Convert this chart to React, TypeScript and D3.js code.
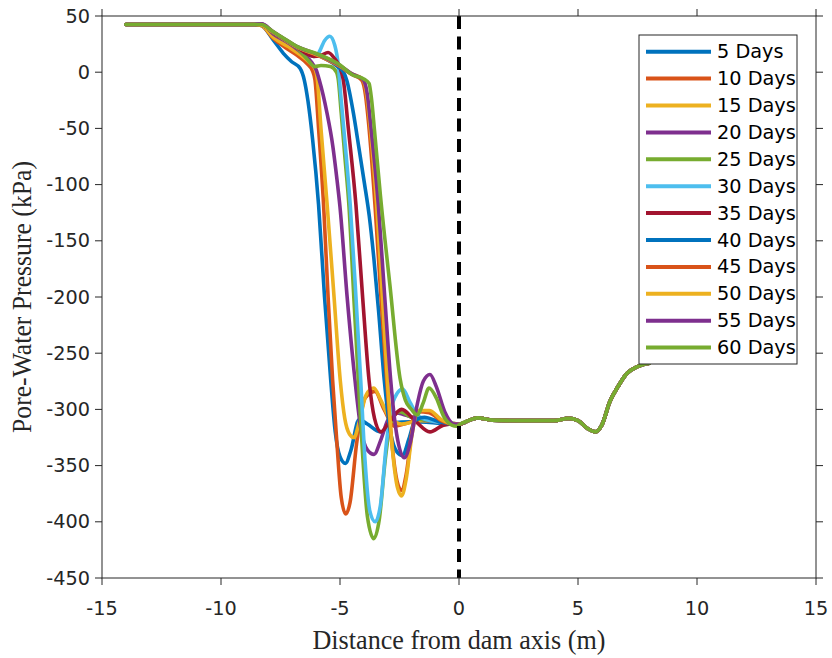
import React from "react";
import * as d3 from "d3";

type P = [number, number];

const xTicks = [-15, -10, -5, 0, 5, 10, 15];
const yTicks = [50, 0, -50, -100, -150, -200, -250, -300, -350, -400, -450];
const seriesLabels = ["5 Days", "10 Days", "15 Days", "20 Days", "25 Days", "30 Days", "35 Days", "40 Days", "45 Days", "50 Days", "55 Days", "60 Days"];
const colors = ["#0072BD", "#D95319", "#EDB120", "#7E2F8E", "#77AC30", "#4DBEEE", "#A2142F", "#0072BD", "#D95319", "#EDB120", "#7E2F8E", "#77AC30"];

const headFlat: P[] = [[-14, 42.5], [-11, 42.5], [-8.6, 42.5]];
const tailCommon: P[] = [[0.05, -313], [0.4, -310], [0.78, -307.5], [1.4, -309.5], [2.5, -310], [4.0, -310], [4.6, -308], [5.0, -310], [5.4, -317], [5.72, -320], [6.0, -314], [6.34, -293], [6.7, -279], [7.05, -268], [7.39, -263], [7.68, -260.5], [8.0, -259]];

const days5: P[] = [[-8.3, 41.5], [-7.8, 28.6], [-7.38, 16.8], [-7.03, 9.3], [-6.68, 3.5], [-6.5, -7], [-6.35, -25], [-6.15, -60], [-5.9, -118], [-5.65, -200], [-5.39, -274], [-5.2, -320], [-5.0, -342], [-4.77, -348], [-4.55, -337], [-4.2, -309], [-3.85, -313], [-3.3, -320], [-2.8, -312], [-2.0, -311], [-1.0, -312], [-0.4, -313]];
const days10: P[] = [[-8.3, 41.5], [-7.8, 30], [-7.3, 22], [-6.8, 15], [-6.4, 8], [-6.15, 1], [-6.05, -7], [-5.9, -50], [-5.69, -118], [-5.5, -200], [-5.31, -274], [-5.13, -330], [-4.95, -378], [-4.76, -393], [-4.58, -383], [-4.3, -330], [-3.95, -290], [-3.53, -284], [-3.15, -300], [-2.7, -315], [-2.3, -313], [-1.6, -309], [-0.9, -310], [-0.35, -313]];
const days15: P[] = [[-8.3, 41.5], [-7.8, 31], [-7.2, 23], [-6.7, 16], [-6.3, 9], [-6.05, 3], [-5.95, -7], [-5.8, -50], [-5.54, -118], [-5.25, -200], [-4.99, -274], [-4.8, -308], [-4.6, -322], [-4.41, -325], [-4.2, -312], [-3.9, -287], [-3.58, -281], [-3.28, -292], [-2.9, -308], [-2.4, -313], [-1.6, -310], [-0.65, -311]];
const days20: P[] = [[-8.3, 43], [-7.8, 34], [-7.1, 25], [-6.6, 17], [-6.2, 9], [-6.0, 2], [-5.87, -7], [-5.55, -36], [-5.3, -66], [-5.13, -95], [-5.0, -120], [-4.7, -200], [-4.37, -274], [-4.12, -318], [-3.85, -336], [-3.57, -340], [-3.3, -328], [-3.0, -310], [-2.7, -303], [-2.1, -306], [-1.3, -310], [-0.55, -312]];
const days25: P[] = [[-8.3, 42], [-7.8, 35], [-6.82, 22], [-6.4, 12], [-6.05, 5], [-5.8, 6], [-5.4, 5], [-5.15, 0], [-5.07, -7], [-4.95, -36], [-4.8, -74], [-4.62, -120], [-4.43, -196], [-4.23, -274], [-4.05, -340], [-3.85, -395], [-3.58, -415], [-3.35, -398], [-3.1, -345], [-2.85, -310], [-2.5, -302], [-2.0, -307], [-1.2, -310], [-0.5, -312]];
const days30: P[] = [[-8.3, 42], [-7.8, 35], [-6.82, 22], [-6.1, 14], [-5.9, 17], [-5.65, 28], [-5.43, 32], [-5.22, 24], [-5.07, 6], [-4.97, -20], [-4.8, -60], [-4.57, -118], [-4.33, -200], [-4.13, -274], [-3.95, -345], [-3.75, -390], [-3.52, -400], [-3.3, -385], [-3.05, -330], [-2.8, -295], [-2.37, -282], [-2.05, -294], [-1.75, -305], [-1.2, -310], [-0.5, -312]];
const days35: P[] = [[-8.3, 42], [-7.8, 35], [-6.82, 22], [-6.1, 14], [-5.8, 15], [-5.5, 17.5], [-5.22, 12], [-5.0, 4], [-4.86, -7], [-4.65, -50], [-4.33, -118], [-4.05, -200], [-3.78, -274], [-3.55, -308], [-3.28, -320], [-2.95, -312], [-2.41, -300], [-1.85, -310], [-1.22, -320], [-0.65, -314], [-0.2, -313]];
const days40: P[] = [[-8.3, 42], [-7.8, 35.5], [-6.82, 22.5], [-5.84, 14.5], [-5.1, 5], [-4.85, 0], [-4.72, -7], [-4.44, -36], [-4.2, -68], [-3.98, -98], [-3.77, -128], [-3.58, -165], [-3.38, -212], [-3.14, -274], [-2.88, -320], [-2.6, -338], [-2.38, -341], [-2.1, -326], [-1.85, -310], [-1.45, -307], [-0.85, -311], [-0.3, -313]];
const days45: P[] = [[-8.3, 42], [-7.8, 35.5], [-6.82, 22.5], [-5.84, 14], [-5.0, 5], [-4.5, -2], [-4.09, -7], [-3.93, -20], [-3.8, -45], [-3.53, -118], [-3.28, -200], [-3.04, -274], [-2.82, -330], [-2.6, -364], [-2.42, -372], [-2.22, -358], [-1.98, -320], [-1.72, -302], [-1.25, -303], [-0.75, -310], [-0.25, -313]];
const days50: P[] = [[-8.3, 42], [-7.8, 35.5], [-6.82, 22.5], [-5.84, 14.5], [-5.0, 5.5], [-4.5, -1.5], [-4.05, -6], [-3.88, -20], [-3.75, -45], [-3.46, -118], [-3.22, -200], [-3.01, -274], [-2.8, -335], [-2.58, -370], [-2.41, -377], [-2.22, -362], [-1.97, -322], [-1.72, -301], [-1.25, -301], [-0.75, -309], [-0.25, -313]];
const days55: P[] = [[-8.3, 43], [-7.8, 36], [-6.82, 23], [-5.84, 15], [-5.0, 6], [-4.5, -1.5], [-4.03, -6.5], [-3.85, -20], [-3.72, -45], [-3.39, -118], [-3.12, -200], [-2.87, -274], [-2.62, -322], [-2.3, -343], [-2.05, -330], [-1.75, -295], [-1.5, -275], [-1.22, -269], [-0.95, -280], [-0.6, -302], [-0.2, -313]];
const days60: P[] = [[-8.3, 42.5], [-7.8, 36], [-6.82, 23], [-5.84, 15.3], [-5.0, 6.4], [-4.5, -2], [-4.0, -6], [-3.78, -10], [-3.67, -25], [-3.55, -52], [-3.3, -110], [-2.9, -190], [-2.48, -272], [-2.25, -292], [-2.0, -300], [-1.75, -305], [-1.5, -294], [-1.26, -281], [-0.95, -290], [-0.65, -306], [-0.3, -314], [-0.1, -315]];

const seriesData: P[][] = [days5, days10, days15, days20, days25, days30, days35, days40, days45, days50, days55, days60];

const W = 832, H = 658;
const left = 102, right = 816, top = 16, bottom = 578;

export default function App() {
  const x = d3.scaleLinear().domain([-15, 15]).range([left, right]);
  const y = d3.scaleLinear().domain([-450, 50]).range([bottom, top]);
  const line = d3.line<P>().x(d => x(d[0])).y(d => y(d[1])).curve(d3.curveMonotoneX);
  const axisColor = "#262626";
  const tickLen = 7;
  const legX = 639, legY = 35, legW = 158, legH = 329;
  const legStep = 26.9;
  const fs = 19.3;
  return (
    <svg width={W} height={H} style={{ position: "absolute", left: 0, top: 0, background: "#fff" }}>
      <rect x={0} y={0} width={W} height={H} fill="#fff" />
      <defs>
        <clipPath id="plotClip"><rect x={left} y={top} width={right - left} height={bottom - top} /></clipPath>
      </defs>
      <g clipPath="url(#plotClip)">
        {seriesData.map((s, i) => (
          <path key={i} d={line([...headFlat, ...s, ...tailCommon]) || ""} fill="none" stroke={colors[i]} strokeWidth={3.6} strokeLinejoin="round" strokeLinecap="round" />
        ))}
        <line x1={x(0)} x2={x(0)} y1={top} y2={bottom} stroke="#000" strokeWidth={4} strokeDasharray="13 7.5" />
      </g>
      <rect x={left} y={top} width={right - left} height={bottom - top} fill="none" stroke={axisColor} strokeWidth={1} />
      {xTicks.map(t => (
        <g key={"x" + t}>
          <line x1={x(t)} x2={x(t)} y1={bottom} y2={bottom + tickLen} stroke={axisColor} />
          <line x1={x(t)} x2={x(t)} y1={top} y2={top - tickLen} stroke={axisColor} />
          <text x={x(t)} y={608} textAnchor="middle" dominantBaseline="central" fontFamily="DejaVu Sans" fontSize={fs} fill="#262626">{t}</text>
        </g>
      ))}
      {yTicks.map(t => (
        <g key={"y" + t}>
          <line x1={left} x2={left - tickLen} y1={y(t)} y2={y(t)} stroke={axisColor} />
          <line x1={right} x2={right + tickLen} y1={y(t)} y2={y(t)} stroke={axisColor} />
          <text x={90} y={y(t)} textAnchor="end" dominantBaseline="central" fontFamily="DejaVu Sans" fontSize={fs} fill="#262626">{t}</text>
        </g>
      ))}
      <text x={(left + right) / 2} y={649} textAnchor="middle" fontFamily="Liberation Serif" fontSize={27} textLength={293} lengthAdjust="spacingAndGlyphs" fill="#262626">Distance from dam axis (m)</text>
      <text transform={`translate(31, ${(top + bottom) / 2}) rotate(-90)`} textAnchor="middle" fontFamily="Liberation Serif" fontSize={27} textLength={272} lengthAdjust="spacingAndGlyphs" fill="#262626">Pore-Water Pressure (kPa)</text>
      <rect x={legX} y={legY} width={legW} height={legH} fill="#fff" stroke="#262626" strokeWidth={1} />
      {seriesLabels.map((lab, i) => (
        <g key={lab}>
          <line x1={646} x2={711} y1={51.7 + i * legStep} y2={51.7 + i * legStep} stroke={colors[i]} strokeWidth={4} />
          <text x={717} y={51.7 + i * legStep} dominantBaseline="central" fontFamily="DejaVu Sans" fontSize={fs} fill="#000">{lab}</text>
        </g>
      ))}
    </svg>
  );
}
